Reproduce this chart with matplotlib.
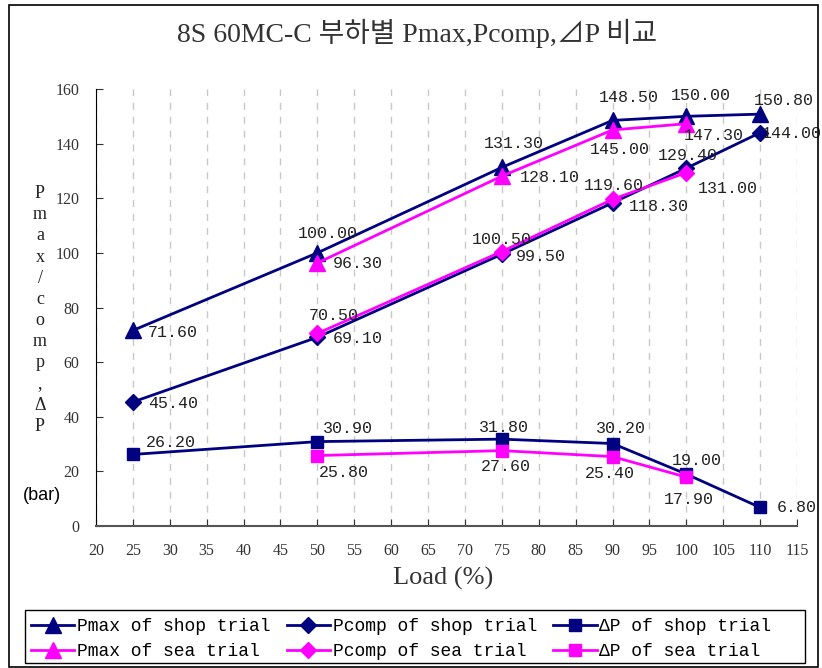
import numpy as np
import matplotlib.pyplot as plt
from matplotlib.patches import Rectangle

# load points (%) for shop trial and sea trial
load_shop = [25, 50, 75, 90, 100, 110]
load_sea = [50, 75, 90, 100]

pmax_shop = [71.6, 100.0, 131.3, 148.5, 150.0, 150.8]
pcomp_shop = [45.4, 69.1, 99.5, 118.3, 131.0, 144.0]
dp_shop = [26.2, 30.9, 31.8, 30.2, 19.0, 6.8]

pmax_sea = [96.3, 128.1, 145.0, 147.3]
pcomp_sea = [70.5, 100.5, 119.6, 129.4]
dp_sea = [25.8, 27.6, 25.4, 17.9]

navy = '#000080'
pink = '#FF00FF'
mono = 'Liberation Mono'
serif = ['Liberation Serif', 'Noto Sans CJK KR', 'DejaVu Sans']

# label offsets in pixels (dx, dy) from each marker
off_pmax_shop = [(40, -2), (10, 19), (12, 24), (16, 23), (15, 21), (24, 14)]
off_pmax_sea = [(41, -1), (48, -1), (7, -20), (28, -12)]
off_pcomp_shop = [(40, -1), (40, -1), (39, -2), (46, -4), (42, -20), (32, -1)]
off_pcomp_sea = [(16, 18), (0, 12), (1, 14), (2, 17)]
off_dp_shop = [(38, 12), (31, 13), (2, 12), (8, 15), (11, 14), (37, 0)]
off_dp_sea = [(27, -17), (4, -16), (-3, -17), (3, -22)]

fig = plt.figure(figsize=(8.22, 6.68), dpi=100)
ax = fig.add_axes([96/822, 1-526/668, (797-96)/822, (526-89)/668])

series = [
    (load_shop, pmax_shop, navy, '^', 11, 'Pmax of shop trial', off_pmax_shop),
    (load_sea, pmax_sea, pink, '^', 11, 'Pmax of sea trial', off_pmax_sea),
    (load_shop, pcomp_shop, navy, 'D', 8, 'Pcomp of shop trial', off_pcomp_shop),
    (load_sea, pcomp_sea, pink, 'D', 8, 'Pcomp of sea trial', off_pcomp_sea),
    (load_shop, dp_shop, navy, 's', 9, 'ΔP of shop trial', off_dp_shop),
    (load_sea, dp_sea, pink, 's', 9, 'ΔP of sea trial', off_dp_sea),
]

handles = []
for x, y, c, m, ms, name, offs in series:
    z = 3 if c == navy else 4
    h, = ax.plot(x, y, color=c, lw=2, marker=m, ms=ms, label=name, zorder=z)
    handles.append(h)
    for xi, yi, (dx, dy) in zip(x, y, offs):
        ax.annotate('%.2f' % yi, (xi, yi), xytext=(dx, dy),
                    textcoords='offset pixels', ha='center', va='center',
                    family=mono, fontsize=12, color='#222222', zorder=6)

ax.set_xlim(20, 115)
ax.set_ylim(0, 160)
ax.set_xticks(np.arange(20, 116, 5))
ax.set_yticks(np.arange(0, 161, 20))
for lab in ax.get_xticklabels() + ax.get_yticklabels():
    lab.set_family(serif)
    lab.set_fontsize(11.5)
    lab.set_color('#333333')
ax.tick_params(direction='in', length=5, color='#333333')
ax.tick_params(axis='x', pad=12)
ax.tick_params(axis='y', pad=12)

ax.xaxis.grid(True, color='#c8c8c8', ls=(0, (5, 5)), lw=1)
ax.set_axisbelow(True)
ax.spines['top'].set_visible(False)
ax.spines['right'].set_visible(False)
ax.spines['bottom'].set_color('#555555')
ax.spines['bottom'].set_linewidth(1.5)

fig.text(417/822, 1-33/668, '8S 60MC-C 부하별 Pmax,Pcomp,⊿P 비교',
         ha='center', va='center', family=serif, fontsize=20, color='#333333')
fig.text(443/822, 1-578/668, 'Load (%)', ha='center', va='center',
         family=serif, fontsize=19, color='#333333')
fig.text(40/822, 1-310/668, '\n'.join('Pmax/comp,ΔP'), ha='center', va='center',
         family=serif, fontsize=13, color='#222222', linespacing=1.32)
fig.text(42/822, 1-495/668, '(bar)', ha='center', va='center',
         family='Liberation Sans', fontsize=13, color='black')

leg = fig.legend(handles, [s[5] for s in series], ncol=3, loc='upper left',
                 bbox_to_anchor=(31/822, 1-618/668),
                 prop={'family': mono, 'size': 13}, frameon=False,
                 handlelength=2.4, handletextpad=0.15, columnspacing=0.9,
                 borderpad=0, labelspacing=0.45, borderaxespad=0)

# legend box and outer chart border
fig.patches.append(Rectangle((25/822, 1-663/668), 780/822, 53/668, fill=False,
                             edgecolor='black', lw=1,
                             transform=fig.transFigure, figure=fig))
fig.patches.append(Rectangle((9/822, 1/668), 809/822, 662/668, fill=False,
                             edgecolor='black', lw=1.2,
                             transform=fig.transFigure, figure=fig))

fig.savefig('out.png', dpi=100)
